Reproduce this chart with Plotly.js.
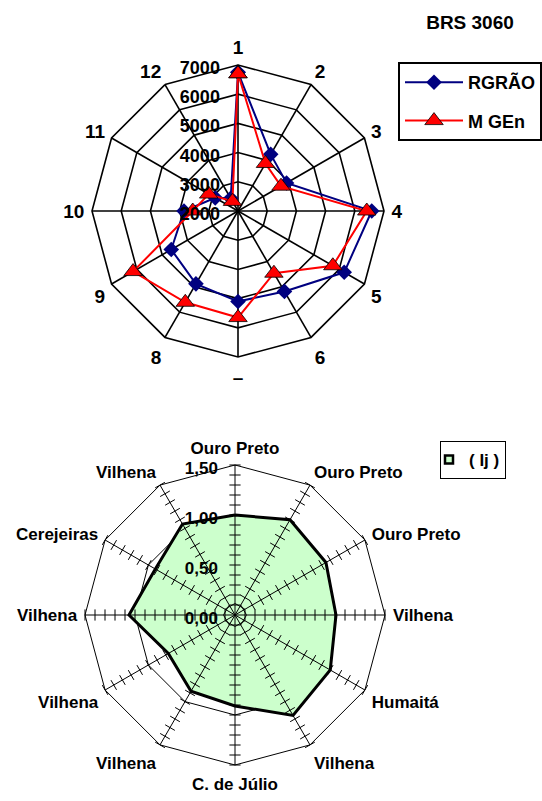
<!DOCTYPE html>
<html>
<head>
<meta charset="utf-8">
<script src="https://cdn.plot.ly/plotly-3.0.1.min.js"></script>
<style>html,body{margin:0;padding:0;background:#fff;}#chart{width:542px;height:801px;}</style>
</head>
<body>
<div id="chart"></div>
<script>
// ---- Top chart data (BRS 3060) ----
var topCategories = ['1','2','3','4','5','6','–','8','9','10','11','12'];
var rgrao = [6750, 4240, 3920, 6580, 6200, 5180, 5100, 4880, 4640, 3850, 2900, 2500];
var mgen  = [6700, 3880, 3700, 6410, 5750, 4460, 5650, 5610, 6150, 3550, 3160, 2380];
var topTickVals = [2000, 3000, 4000, 5000, 6000, 7000];

// ---- Bottom chart data (Ij) ----
var locLabels = ['Ouro Preto','Ouro Preto','Ouro Preto','Vilhena','Humaitá','Vilhena',
                 'C. de Júlio','Vilhena','Vilhena','Vilhena','Cerejeiras','Vilhena'];
var ij = [1.00, 1.10, 1.05, 1.01, 1.10, 1.16, 0.91, 0.88, 0.77, 1.06, 0.92, 1.05];
var botTickVals = [0, 0.5, 1.0, 1.5];
var botTickText = ['0,00','0,50','1,00','1,50'];
var botMinorStep = 0.1;

// unique category keys for repeated place names (zero-width suffix)
var locKeys = locLabels.map(function(s, i){ return s + '\u200b'.repeat(i); });
// padded tick text (keeps labels horizontal and off the axis line)
var NB = '\u00a0';
var topTickText = topTickVals.map(function(v){ return String(v) + NB; });
var botTickTextPadded = botTickText.map(function(s){ return NB + NB + NB + NB + s + NB; });

function closeLoop(a){ return a.concat([a[0]]); }

var F = 'Liberation Sans, Arial, sans-serif';

var traces = [];
traces.push({
  type:'scatterpolar', subplot:'polar', legend:'legend', legendgroup:'a', name:'RGRÃO',
  r: closeLoop(rgrao), theta: closeLoop(topCategories), mode:'lines+markers',
  line:{color:'#000080', width:2},
  marker:{symbol:'diamond', size:12, color:'#000080'}
});
traces.push({
  type:'scatterpolar', subplot:'polar', legend:'legend', legendgroup:'b', name:'M GEn',
  r: closeLoop(mgen), theta: closeLoop(topCategories), mode:'lines+markers',
  line:{color:'#FF0000', width:2},
  marker:{symbol:'triangle-up', size:16, color:'#FF0000', line:{color:'#000', width:0.8}}
});

// bottom filled radar
traces.push({
  type:'scatterpolar', subplot:'polar2', showlegend:false, name:'( Ij )',
  r: closeLoop(ij), theta: closeLoop(locKeys), mode:'lines', fill:'toself',
  fillcolor:'#CCFFCC', line:{color:'#000', width:3}
});

// tick marks along every spoke of bottom chart (axis decoration)
var tr = [], tt = [], ta = [];
for (var i = 0; i < locKeys.length; i++) {
  for (var k = 0; k <= Math.round(botTickVals[botTickVals.length-1] / botMinorStep); k++) {
    tr.push(k * botMinorStep); tt.push(locKeys[i]); ta.push(i * 360 / locKeys.length);
  }
}
traces.push({
  type:'scatterpolar', subplot:'polar3', showlegend:false, hoverinfo:'skip',
  r: tr, theta: tt, mode:'markers',
  marker:{symbol:'line-ew', size:8, angle: ta, color:'#000', line:{color:'#000', width:1}}
});

// legend-only entry for bottom legend
traces.push({
  type:'scatterpolar', subplot:'polar2', legend:'legend2', name:'( Ij )',
  r:[null], theta:[locKeys[0]], mode:'markers',
  marker:{symbol:'square', size:8, color:'#CCFFCC', line:{color:'#000', width:2.5}}
});

var topDomain = {x:[92/542, 384/542], y:[(801-357)/801, (801-65)/801]};
var botDomain = {x:[85/542, 385/542], y:[34/801, 338/801]};

var layout = {
  width:542, height:801,
  margin:{l:0, r:0, t:0, b:0},
  paper_bgcolor:'#fff',
  font:{family:F, color:'#000'},
  title:{text:'<b>BRS 3060</b>', x:470/542, xanchor:'center', y:1-22/801, yanchor:'middle',
         font:{family:F, size:19, color:'#000'}},
  polar:{
    domain: topDomain, gridshape:'linear', bgcolor:'rgba(0,0,0,0)',
    angularaxis:{type:'category', categoryarray: topCategories, rotation:90, direction:'clockwise',
      showline:true, linecolor:'#000', linewidth:1.6, showgrid:true, gridcolor:'#000', gridwidth:1.6,
      ticks:'outside', ticklen:3, tickcolor:'rgba(0,0,0,0)',
      tickfont:{family:F, size:19, color:'#000', weight:'bold'}},
    radialaxis:{range:[2000, 7000], tickmode:'array', tickvals: topTickVals, ticktext: topTickText,
      angle:90, autotickangles:[90],
      side:'counterclockwise', showline:false, ticks:'',
      showgrid:true, gridcolor:'#000', gridwidth:1.6,
      tickfont:{family:F, size:18, color:'#000', weight:'bold'}}
  },
  polar2:{
    domain: botDomain, gridshape:'linear', bgcolor:'rgba(0,0,0,0)',
    angularaxis:{type:'category', categoryarray: locKeys, rotation:90, direction:'clockwise',
      showline:true, linecolor:'#000', linewidth:1, showgrid:false,
      ticks:'outside', ticklen:4, tickcolor:'rgba(0,0,0,0)',
      tickfont:{family:F, size:17, color:'#000', weight:'bold'}},
    radialaxis:{range:[0, 1.5], tickmode:'array', tickvals: botTickVals, ticktext: botTickTextPadded,
      angle:90, autotickangles:[90], side:'counterclockwise', showline:false, ticks:'',
      showgrid:true, gridcolor:'#000', gridwidth:1,
      tickfont:{family:F, size:17, color:'#000', weight:'bold'}}
  },
  polar3:{
    domain: botDomain, gridshape:'linear', bgcolor:'rgba(0,0,0,0)',
    angularaxis:{type:'category', categoryarray: locKeys, rotation:90, direction:'clockwise',
      showline:false, showgrid:true, gridcolor:'#000', gridwidth:1, ticks:'', showticklabels:false},
    radialaxis:{range:[0, 1.5], showline:false, ticks:'', showgrid:false, showticklabels:false}
  },
  legend:{x:398/542, xanchor:'left', y:1-62/801, yanchor:'top', bgcolor:'#fff',
    bordercolor:'#000', borderwidth:2, itemwidth:58, tracegroupgap:12,
    font:{family:F, size:18, color:'#000', weight:'bold'}},
  legend2:{x:440/542, xanchor:'left', y:1-441/801, yanchor:'top', bgcolor:'#fff',
    bordercolor:'#000', borderwidth:1, itemwidth:30, indentation:-12,
    font:{family:F, size:17, color:'#000', weight:'bold'}},
  showlegend:true
};

Plotly.newPlot('chart', traces, layout, {displayModeBar:false, staticPlot:true});
</script>
</body>
</html>
